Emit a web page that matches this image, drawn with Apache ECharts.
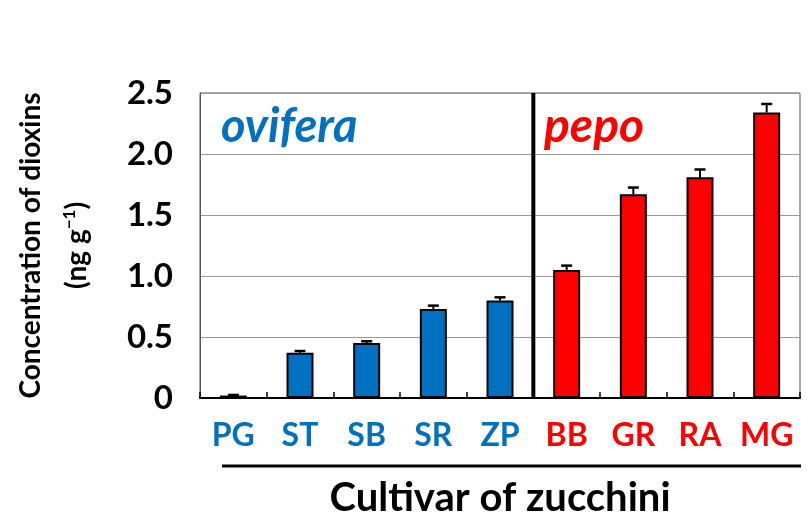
<!DOCTYPE html>
<html>
<head>
<meta charset="utf-8">
<script src="https://cdn.jsdelivr.net/npm/echarts@6/dist/echarts.min.js"></script>
<style>
  html, body { margin: 0; padding: 0; background: #fff; }
  #chart { width: 809px; height: 521px; }
</style>
</head>
<body>
<div id="chart"></div>
<script>
// zucchini cultivars, ovifera group first then pepo
const cultivars = ['PG', 'ST', 'SB', 'SR', 'ZP', 'BB', 'GR', 'RA', 'MG'];
const groupOf = ['ovifera', 'ovifera', 'ovifera', 'ovifera', 'ovifera', 'pepo', 'pepo', 'pepo', 'pepo'];
const dioxins = [0.02, 0.37, 0.45, 0.73, 0.80, 1.05, 1.67, 1.81, 2.34];
const errors = [0.005, 0.015, 0.015, 0.027, 0.025, 0.035, 0.055, 0.063, 0.07];
const yTicks = [0, 0.5, 1.0, 1.5, 2.0, 2.5];

const BLUE = '#0070C0';
const RED = '#FF0000';
const FONT = 'Lato';
const colorOf = g => (g === 'ovifera' ? BLUE : RED);

let option = {
  animation: false,
  grid: {
    left: 200, right: 9, top: 93, bottom: 123,
    outerBoundsMode: 'none',
    containLabel: false,
    show: true, borderColor: '#555', borderWidth: 1
  },
  xAxis: {
    type: 'category',
    data: cultivars,
    name: 'Cultivar of zucchini',
    nameLocation: 'middle',
    nameGap: 80,
    nameTextStyle: { fontFamily: FONT, fontWeight: 'bold', fontSize: 40, color: '#000' },
    axisLine: { lineStyle: { color: '#000', width: 2 } },
    axisTick: { show: true, inside: true, length: 6, lineStyle: { color: '#000', width: 1.5 } },
    axisLabel: {
      interval: 0,
      margin: 22,
      fontFamily: FONT, fontWeight: 'bold', fontSize: 32,
      color: (v, i) => colorOf(groupOf[cultivars.indexOf(v)])
    }
  },
  yAxis: {
    type: 'value',
    min: 0, max: 2.5, interval: 0.5,
    name: '{a|Concentration of dioxins}\n{a|(ng g}{s|−1}{a|)}',
    nameLocation: 'middle',
    nameRotate: 90,
    nameGap: 100,
    nameTextStyle: {
      rich: {
        a: { fontFamily: FONT, fontWeight: 'bold', fontSize: 28, color: '#000', lineHeight: 46 },
        s: { fontFamily: FONT, fontWeight: 'bold', fontSize: 17, color: '#000', padding: [0, 0, 14, 0] }
      }
    },
    axisLine: { show: true, lineStyle: { color: '#555', width: 1 } },
    axisTick: { show: false },
    splitLine: { lineStyle: { color: '#999', width: 1 } },
    axisLabel: {
      margin: 27,
      fontFamily: FONT, fontWeight: 'bold', fontSize: 33, color: '#000',
      formatter: v => (yTicks.indexOf(v) < 0 ? '' : (v === 0 ? '0' : v.toFixed(1)))
    }
  },
  series: [
    {
      type: 'bar',
      barWidth: 27,
      data: dioxins.map((v, i) => ({
        value: v,
        itemStyle: { color: colorOf(groupOf[i]), borderColor: '#000', borderWidth: 2 }
      })),
      z: 2
    },
    {
      // upper error bars
      type: 'custom',
      data: dioxins.map((v, i) => [i, v, v + errors[i]]),
      renderItem: function (params, api) {
        const lo = api.coord([api.value(0), api.value(1)]);
        const hi = api.coord([api.value(0), api.value(2)]);
        const w = 5.5;
        return {
          type: 'group',
          children: [
            { type: 'line', shape: { x1: lo[0], y1: lo[1], x2: hi[0], y2: hi[1] }, style: { stroke: '#000', lineWidth: 2 } },
            { type: 'line', shape: { x1: hi[0] - w, y1: hi[1], x2: hi[0] + w, y2: hi[1] }, style: { stroke: '#000', lineWidth: 2.5 } }
          ]
        };
      },
      z: 3
    },
    {
      // divider between the two groups
      type: 'custom',
      data: [[4, 0, 2.5]],
      renderItem: function (params, api) {
        const half = api.size([1, 0])[0] / 2;
        const b = api.coord([api.value(0), api.value(1)]);
        const t = api.coord([api.value(0), api.value(2)]);
        return {
          type: 'line',
          shape: { x1: b[0] + half, y1: b[1], x2: t[0] + half, y2: t[1] },
          style: { stroke: '#000', lineWidth: 4 }
        };
      },
      z: 4
    }
  ],
  graphic: [
    {
      type: 'text', left: 221, top: 103,
      style: { text: 'ovifera', fontFamily: FONT, fontStyle: 'italic', fontWeight: 'bold', fontSize: 47, fill: BLUE }
    },
    {
      type: 'text', left: 544, top: 103,
      style: { text: 'pepo', fontFamily: FONT, fontStyle: 'italic', fontWeight: 'bold', fontSize: 48, fill: RED }
    },
    {
      type: 'line',
      shape: { x1: 222, y1: 466, x2: 801, y2: 466 },
      style: { stroke: '#000', lineWidth: 3 }
    }
  ]
};

let myChart = echarts.init(document.getElementById('chart'));
myChart.setOption(option);
</script>
</body>
</html>
